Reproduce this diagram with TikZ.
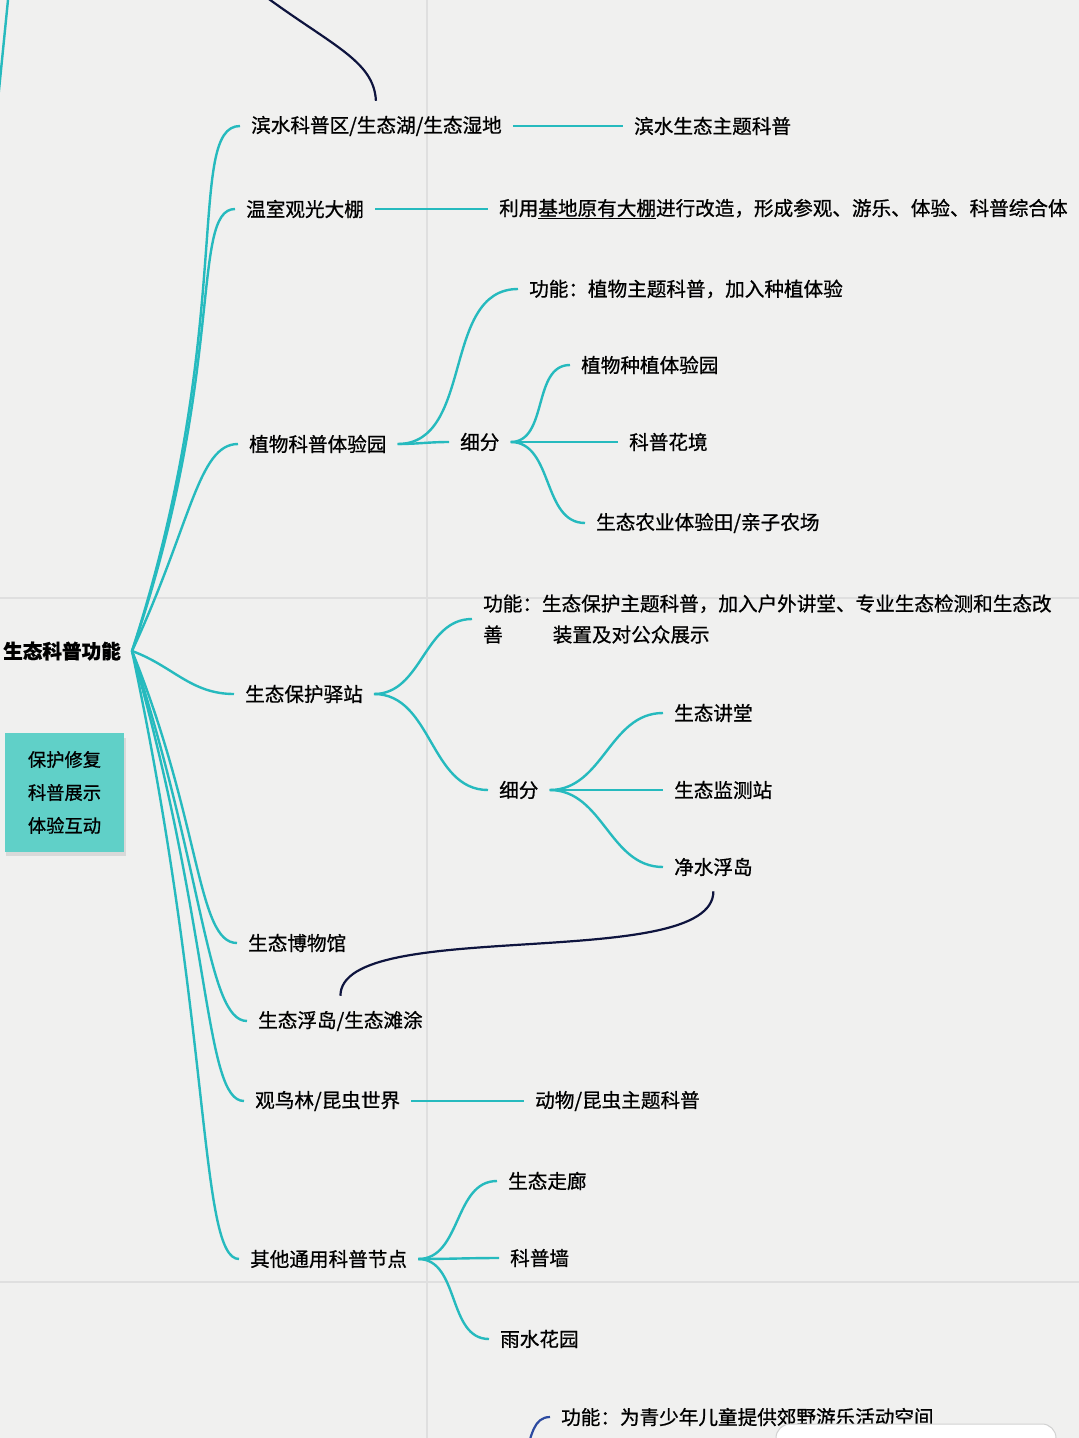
\documentclass[tikz,border=0pt]{standalone}
\usepackage{fontspec}
\setmainfont{Noto Sans CJK SC}[RawFeature={embolden=0.8}]
\definecolor{mapteal}{RGB}{38,186,190}
\definecolor{relnavy}{RGB}{14,20,62}
\definecolor{relblue}{RGB}{44,74,160}
\definecolor{notecyan}{RGB}{96,208,200}
\definecolor{paper}{RGB}{240,240,239}
\definecolor{guidegray}{RGB}{223,223,223}
\usepackage{tikz}

\begin{document}
\begin{tikzpicture}[x=1pt, y=-1pt,
    topic/.style={anchor=west, inner xsep=11pt, inner ysep=3pt,
                  font=\fontsize{19.6}{31}\selectfont},
    br/.style={draw=mapteal, line width=2.4pt},
    rel/.style={draw=relnavy, line width=2.2pt},
    guide/.style={draw=guidegray, line width=1.2pt}
  ]
    \useasboundingbox (0,0) rectangle (1079,1438);
    \clip (0,0) rectangle (1079,1438);
    \fill[paper] (0,0) rectangle (1079,1438);
    \draw[guide] (427,0) -- (427,1438);
    \draw[guide] (0,598) -- (1079,598);
    \draw[guide] (0,1282) -- (1079,1282);

    % sticky note
    \fill[black!15] (6,738) rectangle (126,856);
    \node[fill=notecyan, minimum width=119pt, minimum height=119pt, inner sep=0pt,
          align=center, font=\fontsize{18.3}{33}\selectfont] (note) at (64.5,792.5)
      {保护修复\\科普展示\\体验互动};

    \node[topic, font=\fontsize{19.6}{31}\selectfont\bfseries] (root) at (-8,651) {生态科普功能};

    \node[topic] (a1) at (240,126) {滨水科普区/生态湖/生态湿地};
    \node[topic] (a2) at (235,209) {温室观光大棚};
    \node[topic] (a3) at (238,444) {植物科普体验园};
    \node[topic] (a4) at (234,694) {生态保护驿站};
    \node[topic] (a5) at (237,943) {生态博物馆};
    \node[topic] (a6) at (247,1021) {生态浮岛/生态滩涂};
    \node[topic] (a7) at (244,1101) {观鸟林/昆虫世界};
    \node[topic] (a8) at (239,1259) {其他通用科普节点};

    \node[topic] (b1) at (623,126) {滨水生态主题科普};
    \node[topic] (b2) at (488,209)
      {利用\underline{基地原有大棚}进行改造，形成参观、游乐、体验、科普综合体};

    \node[topic] (c1) at (518,289) {功能：植物主题科普，加入种植体验};
    \node[topic] (c2) at (449,442) {细分};
    \node[topic] (c21) at (570,365) {植物种植体验园};
    \node[topic] (c22) at (618,442) {科普花境};
    \node[topic] (c23) at (585,523) {生态农业体验田/亲子农场};

    \node[topic, align=left] (d1) at (472,619)
      {功能：生态保护主题科普，加入户外讲堂、专业生态检测和生态改\\
       善\hspace{50pt}装置及对公众展示};
    \node[topic] (d2) at (488,790) {细分};
    \node[topic] (d21) at (663,713) {生态讲堂};
    \node[topic] (d22) at (663,790) {生态监测站};
    \node[topic] (d23) at (663,867) {净水浮岛};

    \node[topic] (g1) at (524,1101) {动物/昆虫主题科普};

    \node[topic] (h1) at (497,1181) {生态走廊};
    \node[topic] (h2) at (499,1258) {科普墙};
    \node[topic] (h3) at (489,1339) {雨水花园};

    \node[topic] (z1) at (550,1417) {功能：为青少年儿童提供郊野游乐活动空间};

    % root fan
    \draw[br] (root.east) to[out=72, in=180, out distance=340pt, in distance=55pt] (a1.west);
    \draw[br] (root.east) to[out=71, in=180, out distance=290pt, in distance=45pt] (a2.west);
    \draw[br] (root.east) to[out=65, in=180, out distance=140pt, in distance=40pt] (a3.west);
    \draw[br] (root.east) to[out=-20, in=180] (a4.west);
    \draw[br] (root.east) to[out=-68, in=180, out distance=185pt, in distance=40pt] (a5.west);
    \draw[br] (root.east) to[out=-72, in=180, out distance=235pt, in distance=40pt] (a6.west);
    \draw[br] (root.east) to[out=-74, in=180, out distance=290pt, in distance=40pt] (a7.west);
    \draw[br] (root.east) to[out=-78, in=180, out distance=385pt, in distance=40pt] (a8.west);

    \draw[br] (a1.east) -- (b1.west);
    \draw[br] (a2.east) -- (b2.west);
    \draw[br] (a3.east) to[out=0, in=180] (c1.west);
    \draw[br] (a3.east) to[out=0, in=180] (c2.west);
    \foreach \k in {c21,c22,c23}
      \draw[br] (c2.east) to[out=0, in=180] (\k.west);
    \draw[br] (a4.east) to[out=0, in=180] (d1.west);
    \draw[br] (a4.east) to[out=0, in=180] (d2.west);
    \foreach \k in {d21,d22,d23}
      \draw[br] (d2.east) to[out=0, in=180] (\k.west);
    \draw[br] (a7.east) -- (g1.west);
    \foreach \k in {h1,h2,h3}
      \draw[br] (a8.east) to[out=0, in=180] (\k.west);

    % parts of the map outside the crop
    \coordinate (offl) at (-3,110);
    \coordinate (offt) at (9,-10);
    \draw[br] (offl) -- (offt);
    \coordinate (offb) at (526,1452);
    \draw[draw=relblue, line width=2.2pt] (offb) to[out=70, in=180] (z1.west);
    \draw[black!18, fill=white, rounded corners=14pt, line width=1pt] (776,1424) rectangle (1056,1500);

    % relationship lines
    \coordinate (reltop) at (258,-9);
    \draw[rel, shorten >=12pt] (reltop) .. controls (330,45) and (374,60) .. (a1.north);
    \draw[rel, shorten <=12pt, shorten >=12pt] (d23.south) .. controls +(0,94) and +(0,-92) .. (a6.north);
  \end{tikzpicture}
\end{document}
